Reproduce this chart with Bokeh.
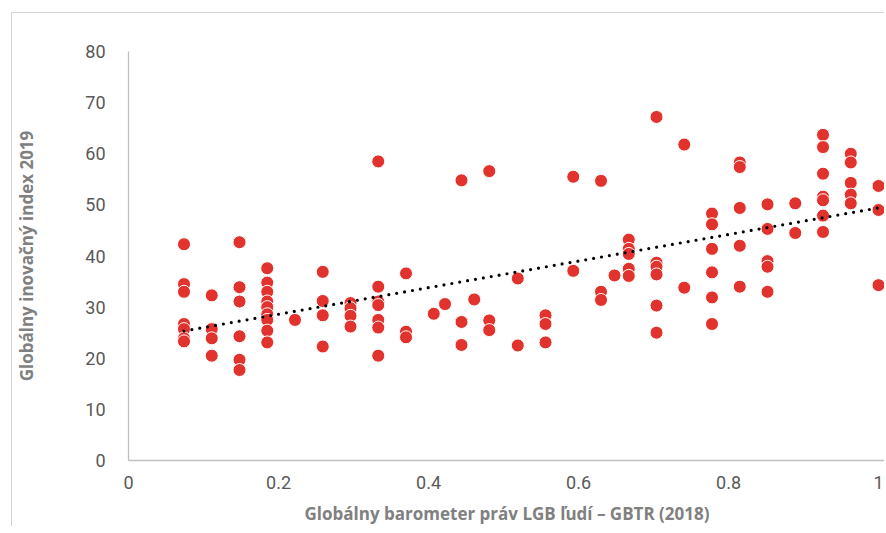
import numpy as np
from bokeh.plotting import figure
from bokeh.models import Range1d, FixedTicker
from bokeh.embed import file_html
from bokeh.resources import INLINE

# GBTR 2018 score (x) and Global Innovation Index 2019 (y)
gbtr = (
    [0.074] * 7 + [0.111] * 4 + [0.148] * 6 + [0.185] * 9 + [0.222] * 1 +
    [0.259] * 4 + [0.296] * 4 + [0.333] * 7 + [0.370] * 3 + [0.407] * 1 +
    [0.422] * 1 + [0.444] * 3 + [0.461] * 1 + [0.481] * 3 + [0.519] * 2 +
    [0.556] * 3 + [0.593] * 2 + [0.630] * 3 + [0.648] * 1 + [0.667] * 5 +
    [0.704] * 6 + [0.741] * 2 + [0.778] * 6 + [0.815] * 5 + [0.852] * 5 +
    [0.889] * 2 + [0.926] * 7 + [0.963] * 5 + [1.0] * 3
)
gii = [
    42.3, 34.5, 33.0, 26.7, 25.7, 23.9, 23.3,
    32.3, 25.7, 23.9, 20.5,
    42.7, 33.9, 31.1, 24.3, 19.7, 17.7,
    37.6, 34.8, 33.0, 31.1, 30.0, 28.6, 27.5, 25.4, 23.1,
    27.5,
    36.9, 31.2, 28.4, 22.3,
    30.8, 29.8, 28.3, 26.2,
    58.5, 34.0, 31.1, 30.4, 27.5, 26.0, 20.5,
    36.6, 25.2, 24.1,
    28.7,
    30.6,
    54.8, 27.1, 22.6,
    31.5,
    56.6, 27.4, 25.5,
    35.6, 22.5,
    28.4, 26.7, 23.1,
    55.5, 37.1,
    54.7, 33.0, 31.4,
    36.2,
    43.2, 41.4, 40.4, 37.5, 36.1,
    67.2, 38.7, 37.9, 36.4, 30.3, 25.0,
    61.8, 33.8,
    48.3, 46.2, 41.4, 36.8, 31.9, 26.7,
    58.3, 57.4, 49.4, 42.0, 34.0,
    50.1, 45.3, 39.0, 37.9, 33.0,
    50.3, 44.5,
    63.7, 61.3, 56.1, 51.6, 50.9, 47.9, 44.7,
    60.0, 58.3, 54.3, 52.0, 50.3,
    53.7, 49.0, 34.3,
]

x_ticks = [0, 0.2, 0.4, 0.6, 0.8, 1.0]
x_tick_labels = ["0", "0.2", "0.4", "0.6", "0.8", "1"]
y_ticks = [0, 10, 20, 30, 40, 50, 60, 70, 80]

x_title = "Globálny barometer práv LGB ľudí – GBTR (2018)"
y_title = "Globálny inovačný index 2019"

p = figure(width=873, height=514, output_backend="svg", toolbar_location=None,
           x_range=Range1d(0, 1.0093), y_range=Range1d(0, 80),
           min_border_left=113, min_border_right=0, min_border_top=38,
           min_border_bottom=66)
p.styles = {"border-left": "1px solid #d4d4d4", "border-top": "1px solid #d4d4d4",
            "margin-left": "11px", "margin-top": "12px"}
p.outline_line_color = None
p.xgrid.grid_line_color = None
p.ygrid.grid_line_color = None

for ax in (p.xaxis, p.yaxis):
    ax.axis_line_color = "#bfbfbf"
    ax.axis_line_width = 1.3
    ax.major_tick_line_color = None
    ax.minor_tick_line_color = None
    ax.major_label_text_font = "Roboto"
    ax.major_label_text_font_size = "18px"
    ax.major_label_text_color = "#595959"
    ax.axis_label_text_font = "Open Sans"
    ax.axis_label_text_font_style = "bold"
    ax.axis_label_text_font_size = "17px"
    ax.axis_label_text_color = "#808080"

p.xaxis.ticker = FixedTicker(ticks=x_ticks)
p.xaxis.major_label_overrides = {t: l for t, l in zip(x_ticks, x_tick_labels)}
p.xaxis.major_label_standoff = 9
p.xaxis.axis_label = x_title
p.xaxis.axis_label_standoff = 10

p.yaxis.ticker = FixedTicker(ticks=y_ticks)
p.yaxis.major_label_standoff = 17
p.yaxis.axis_label = y_title
p.yaxis.axis_label_standoff = 44

# linear trend line fitted to the data
slope, intercept = np.polyfit(gbtr, gii, 1)
tx = [min(gbtr), max(gbtr)]
ty = [slope * v + intercept for v in tx]

p.scatter(gbtr, gii, size=13, fill_color="#E1322D", line_color="white", line_width=1)
p.line(tx, ty, line_color="black", line_width=3.2, line_dash="0 8", line_cap="round")

open("out.html", "w").write(file_html(p, INLINE))
